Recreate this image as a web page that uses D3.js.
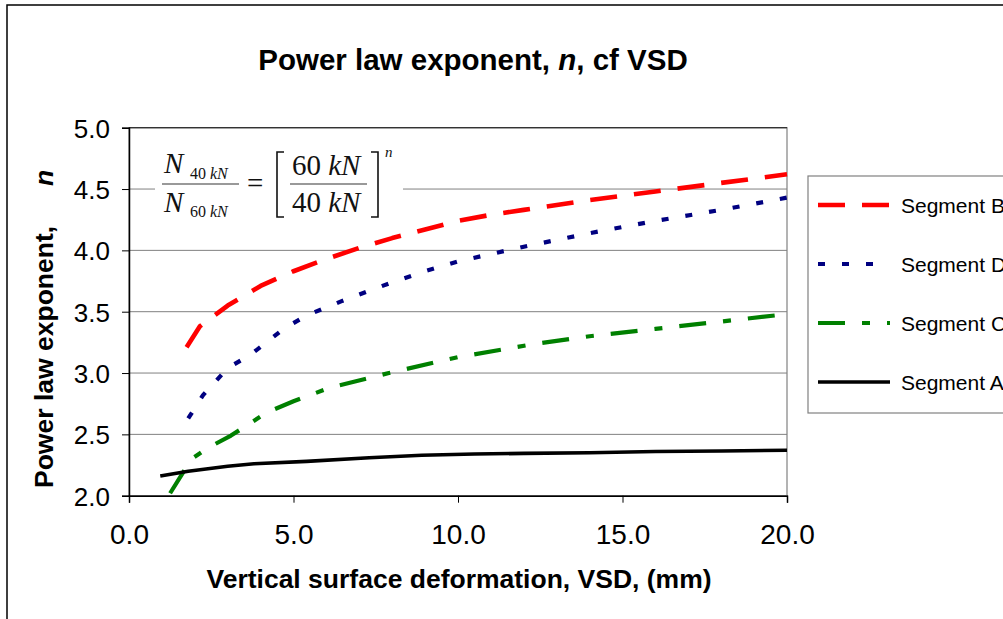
<!DOCTYPE html>
<html>
<head>
<meta charset="utf-8">
<script src="https://cdn.jsdelivr.net/npm/d3@7"></script>
<style>
  body { margin: 0; background: #fff; }
  svg { display: block; font-family: "Liberation Sans", Arial, sans-serif; }
</style>
</head>
<body>
<div id="chart"></div>
<script>
// series data (VSD in mm, exponent n)
const vsdB = [1.75, 2.15, 3.0, 4.0, 5.0, 6.0, 7.0, 8.0, 9.0, 10.0, 11.0, 12.0, 14.0, 16.0, 18.0, 20.0];
const nB = [3.21, 3.38, 3.55, 3.71, 3.83, 3.93, 4.02, 4.10, 4.17, 4.24, 4.29, 4.33, 4.41, 4.48, 4.55, 4.62];

const vsdD = [1.8, 2.25, 3.0, 3.7, 4.7, 5.4, 6.5, 8.0, 9.0, 10.0, 11.0, 12.0, 14.0, 16.0, 18.0, 20.0];
const nD = [2.63, 2.82, 3.04, 3.15, 3.36, 3.47, 3.59, 3.74, 3.83, 3.91, 3.97, 4.03, 4.14, 4.24, 4.33, 4.43];

const vsdC = [1.25, 1.9, 2.4, 3.1, 4.2, 5.0, 6.1, 7.9, 10.0, 12.4, 14.0, 16.0, 18.0, 20.0];
const nC = [2.02, 2.30, 2.39, 2.49, 2.68, 2.77, 2.88, 3.00, 3.13, 3.24, 3.30, 3.36, 3.42, 3.48];

const vsdA = [0.95, 1.8, 3.0, 3.8, 5.4, 7.3, 8.9, 10.5, 12.0, 14.0, 16.0, 18.0, 20.0];
const nA = [2.16, 2.20, 2.24, 2.26, 2.28, 2.31, 2.33, 2.34, 2.345, 2.35, 2.36, 2.365, 2.37];

const seriesNames = ['Segment B', 'Segment D', 'Segment C', 'Segment A'];
const xTicks = [0, 5, 10, 15, 20];
const yTicks = [2.0, 2.5, 3.0, 3.5, 4.0, 4.5, 5.0];

const W = 1003, H = 619;
const plot = {left: 129, right: 787, top: 127.7, bottom: 495.7};

const svg = d3.select('#chart').append('svg')
  .attr('width', W).attr('height', H);

// outer chart frame
svg.append('rect')
  .attr('x', 7).attr('y', 5).attr('width', 1100).attr('height', 700)
  .attr('fill', '#fff').attr('stroke', '#000').attr('stroke-width', 1.5);

const xScale = d3.scaleLinear().domain([0, 20]).range([plot.left, plot.right]);
const yScale = d3.scaleLinear().domain([2, 5]).range([plot.bottom, plot.top]);

// gridlines
svg.append('g')
  .selectAll('line')
  .data(yTicks)
  .join('line')
  .attr('x1', plot.left).attr('x2', plot.right)
  .attr('y1', (d) => yScale(d)).attr('y2', (d) => yScale(d))
  .attr('stroke', '#808080').attr('stroke-width', 1);

// plot area border
svg.append('rect')
  .attr('x', plot.left).attr('y', plot.top)
  .attr('width', plot.right - plot.left).attr('height', plot.bottom - plot.top)
  .attr('fill', 'none').attr('stroke', '#808080').attr('stroke-width', 1.2);
svg.append('line')
  .attr('x1', plot.left).attr('x2', plot.right)
  .attr('y1', plot.top).attr('y2', plot.top)
  .attr('stroke', '#333').attr('stroke-width', 1.2);

// formula box (covers the gridline)
const f = svg.append('g').attr('class', 'formula')
  .style('font-family', '"Liberation Serif", "Times New Roman", serif')
  .attr('fill', '#111');
f.append('rect').attr('x', 155).attr('y', 140).attr('width', 248).attr('height', 86).attr('fill', '#fff');
f.append('text').attr('x', 164).attr('y', 173).style('font-size', '29px').style('font-style', 'italic').text('N');
f.append('text').attr('x', 190).attr('y', 179).style('font-size', '16px')
  .html('40 <tspan font-style="italic">kN</tspan>');
f.append('line').attr('x1', 162).attr('x2', 239).attr('y1', 184).attr('y2', 184).attr('stroke', '#777').attr('stroke-width', 1.5);
f.append('text').attr('x', 164).attr('y', 212).style('font-size', '29px').style('font-style', 'italic').text('N');
f.append('text').attr('x', 190).attr('y', 217).style('font-size', '16px')
  .html('60 <tspan font-style="italic">kN</tspan>');
f.append('text').attr('x', 247).attr('y', 193).style('font-size', '29px').text('=');
f.append('path').attr('d', 'M284,152 H277 V217 H284').attr('fill', 'none').attr('stroke', '#111').attr('stroke-width', 1.6);
f.append('line').attr('x1', 290).attr('x2', 367).attr('y1', 184).attr('y2', 184).attr('stroke', '#777').attr('stroke-width', 1.5);
f.append('text').attr('x', 292).attr('y', 175).style('font-size', '29px')
  .html('60 <tspan font-style="italic">kN</tspan>');
f.append('text').attr('x', 292).attr('y', 212).style('font-size', '29px')
  .html('40 <tspan font-style="italic">kN</tspan>');
f.append('path').attr('d', 'M371,152 H378 V217 H371').attr('fill', 'none').attr('stroke', '#111').attr('stroke-width', 1.6);
f.append('text').attr('x', 385).attr('y', 157).style('font-size', '15px').style('font-style', 'italic').text('n');

// series
const series = [
  {name: seriesNames[0], xs: vsdB, ys: nB, color: '#ff0000', width: 4.6, dash: '27,17'},
  {name: seriesNames[1], xs: vsdD, ys: nD, color: '#000080', width: 4.2, dash: '7,17'},
  {name: seriesNames[2], xs: vsdC, ys: nC, color: '#008000', width: 4.2, dash: '27,17,8,17'},
  {name: seriesNames[3], xs: vsdA, ys: nA, color: '#000000', width: 3.6, dash: null},
];

const line = d3.line()
  .x((d) => xScale(d[0]))
  .y((d) => yScale(d[1]));

svg.append('g')
  .selectAll('path')
  .data(series)
  .join('path')
  .attr('fill', 'none')
  .attr('stroke', (d) => d.color)
  .attr('stroke-width', (d) => d.width)
  .attr('stroke-dasharray', (d) => d.dash)
  .attr('stroke-linejoin', 'round')
  .attr('d', (d) => line(d.xs.map((x, i) => [x, d.ys[i]])));

// axes
const yAxis = svg.append('g')
  .attr('transform', `translate(${plot.left},0)`)
  .call(d3.axisLeft(yScale).tickValues(yTicks).tickSize(7).tickPadding(12).tickFormat(d3.format('.1f')));
const xAxis = svg.append('g')
  .attr('transform', `translate(0,${plot.bottom})`)
  .call(d3.axisBottom(xScale).tickValues(xTicks).tickSize(7).tickFormat(d3.format('.1f')));

[yAxis, xAxis].forEach((ax) => {
  ax.select('.domain').attr('stroke', '#000').attr('stroke-width', 1.5);
  ax.selectAll('.tick line').attr('stroke', '#000').attr('stroke-width', 1);
  ax.selectAll('text').attr('fill', '#000')
    .style('font-family', '"Liberation Sans", Arial, sans-serif');
});
yAxis.selectAll('text').style('font-size', '26px').attr('dy', '0.36em');
xAxis.selectAll('text').style('font-size', '28px').attr('y', 48).attr('dy', 0);

// titles
svg.append('text')
  .attr('x', 473).attr('y', 70)
  .attr('text-anchor', 'middle')
  .style('font-size', '29.5px').style('font-weight', 'bold')
  .html('Power law exponent, <tspan font-style="italic">n</tspan>, cf VSD');

svg.append('text')
  .attr('x', 459).attr('y', 588)
  .attr('text-anchor', 'middle')
  .style('font-size', '26.5px').style('font-weight', 'bold')
  .text('Vertical surface deformation, VSD, (mm)');

svg.append('text')
  .attr('transform', 'translate(53,488) rotate(-90)')
  .attr('text-anchor', 'start')
  .style('font-size', '26.5px').style('font-weight', 'bold')
  .html('Power law exponent,<tspan dx="40" font-style="italic">n</tspan>');

// legend
const legend = svg.append('g').attr('class', 'legend');
legend.append('rect')
  .attr('x', 808).attr('y', 176).attr('width', 300).attr('height', 237)
  .attr('fill', '#fff').attr('stroke', '#808080').attr('stroke-width', 1.2);
const legendY = d3.scalePoint().domain(seriesNames).range([205, 382]);
const item = legend.selectAll('g.item')
  .data(series)
  .join('g')
  .attr('class', 'item')
  .attr('transform', (d) => `translate(0,${legendY(d.name)})`);
item.append('line')
  .attr('x1', 818).attr('x2', 890)
  .attr('stroke', (d) => d.color)
  .attr('stroke-width', (d) => d.width)
  .attr('stroke-dasharray', (d) => d.dash);
item.append('text')
  .attr('x', 901).attr('dy', '0.36em')
  .style('font-size', '21px')
  .text((d) => d.name);
</script>
</body>
</html>
